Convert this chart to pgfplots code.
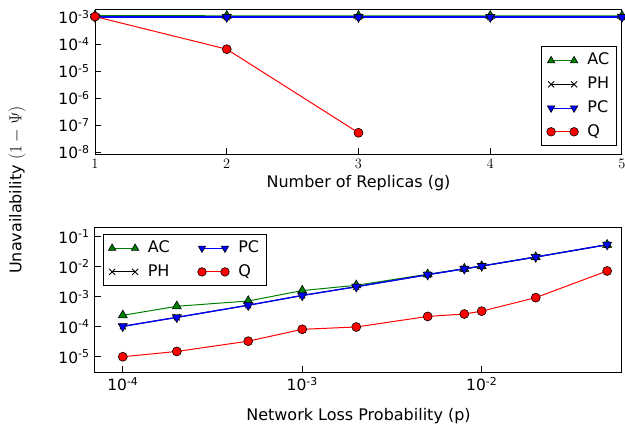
\documentclass[border=0pt]{standalone}
\usepackage{fontspec}
\setmainfont{DejaVu Sans}
\usepackage{pgfplots}
\pgfplotsset{compat=1.18}

\definecolor{mplgreen}{rgb}{0,0.5,0}

\pgfplotsset{
  panel/.style={
    scale only axis,
    width=527pt, height=145pt,
    anchor=south west,
    axis line style={line width=1pt},
    tick align=inside,
    xtick pos=left, ytick pos=left,
    major tick length=6pt,
    every tick/.style={black, line width=1pt},
    minor xtick={}, minor ytick={},
    tick label style={font=\fontsize{15.5}{18}\selectfont},
    label style={font=\fontsize{16}{19}\selectfont},
    legend cell align=left,
    legend style={draw=black, line width=1pt, fill=white,
      font=\fontsize{16}{19}\selectfont,
      inner xsep=5pt, inner ysep=4pt, row sep=4.2pt,
      nodes={inner sep=2pt, text height=12pt, text depth=3.5pt},
      /tikz/every odd column/.append style={column sep=7pt}},
    legend image code/.code={\draw[#1, line width=1pt, mark size=4.3pt] plot coordinates {(0pt,0pt) (23pt,0pt)};},
  },
  ac/.style={mplgreen, line width=1pt, mark=triangle*, mark size=5.2pt,
    mark options={fill=mplgreen, draw=black, line width=0.6pt}},
  ph/.style={black, line width=1pt, mark=x, mark size=4.2pt,
    mark options={line width=0.8pt}},
  pc/.style={blue, line width=1.3pt, mark=triangle*, mark size=5.2pt,
    mark options={rotate=180, fill=blue, draw=black, line width=0.6pt}},
  q/.style={red, line width=1pt, mark=*, mark size=4.5pt,
    mark options={fill=red, draw=black, line width=0.6pt}},
}

\begin{document}
\fontsize{16}{19}\selectfont
\begin{tikzpicture}
\useasboundingbox (0pt,0pt) rectangle (625pt,-426pt);

% top: number of replicas
\begin{axis}[panel,
  at={(95pt,-154pt)},
  ymode=log, log basis y=10,
  xmin=1, xmax=5, ymin=8.5e-9, ymax=2e-3,
  xtick={1,2,3,4,5},
  ytick={1e-8,1e-7,1e-6,1e-5,1e-4,1e-3},
  yticklabels={10\textsuperscript{-8},10\textsuperscript{-7},10\textsuperscript{-6},10\textsuperscript{-5},10\textsuperscript{-4},10\textsuperscript{-3}},
  xlabel={Number of Replicas (g)},
  xlabel style={yshift=4pt},
  clip=false,
  legend style={at={(0.990,0.055)}, anchor=south east},
]
\addplot[ac] coordinates {(1,1.15e-3) (2,1.12e-3) (3,1.12e-3) (4,1.12e-3) (5,1.12e-3)};
\addlegendentry{AC}
\addplot[ph] coordinates {(1,1.0e-3) (2,1.0e-3) (3,1.0e-3) (4,1.0e-3) (5,1.0e-3)};
\addlegendentry{PH}
\addplot[pc] coordinates {(1,1.0e-3) (2,1.0e-3) (3,1.0e-3) (4,1.0e-3) (5,1.0e-3)};
\addlegendentry{PC}
\addplot[q] coordinates {(1,1.05e-3) (2,6.5e-5) (3,5.2e-8)};
\addlegendentry{Q}
\end{axis}

% bottom: network loss probability
\begin{axis}[panel,
  at={(95pt,-372pt)},
  xmode=log, ymode=log, log basis x=10, log basis y=10,
  xmin=7e-5, xmax=0.0605, ymin=3.1e-6, ymax=0.21,
  xtick={1e-4,1e-3,1e-2},
  xticklabels={10\textsuperscript{-4},10\textsuperscript{-3},10\textsuperscript{-2}},
  ytick={1e-5,1e-4,1e-3,1e-2,1e-1},
  yticklabels={10\textsuperscript{-5},10\textsuperscript{-4},10\textsuperscript{-3},10\textsuperscript{-2},10\textsuperscript{-1}},
  xlabel={Network Loss Probability (p)},
  xlabel style={yshift=-6pt},
  legend columns=2,
  legend style={at={(0.015,0.952)}, anchor=north west,
    /tikz/every even column/.append style={column sep=26pt}},
]
\addplot[ac, forget plot] coordinates {(1e-4,2.4e-4) (2e-4,4.8e-4) (5e-4,7.2e-4) (1e-3,1.6e-3) (2e-3,2.4e-3) (5e-3,5.6e-3) (8e-3,8.6e-3) (1e-2,1.05e-2) (2e-2,2.1e-2) (5e-2,5.4e-2)};
\addplot[ph, forget plot] coordinates {(1e-4,1.03e-4) (2e-4,2.05e-4) (5e-4,5.2e-4) (1e-3,1.1e-3) (2e-3,2.15e-3) (5e-3,5.4e-3) (8e-3,8.5e-3) (1e-2,1.05e-2) (2e-2,2.1e-2) (5e-2,5.4e-2)};
\addplot[pc, forget plot] coordinates {(1e-4,1.03e-4) (2e-4,2.05e-4) (5e-4,5.2e-4) (1e-3,1.1e-3) (2e-3,2.15e-3) (5e-3,5.4e-3) (8e-3,8.5e-3) (1e-2,1.05e-2) (2e-2,2.1e-2) (5e-2,5.4e-2)};
\addplot[q, forget plot] coordinates {(1e-4,1.0e-5) (2e-4,1.5e-5) (5e-4,3.3e-5) (1e-3,8.2e-5) (2e-3,9.8e-5) (5e-3,2.2e-4) (8e-3,2.65e-4) (1e-2,3.3e-4) (2e-2,9.3e-4) (5e-2,7.2e-3)};
\addlegendimage{ac}\addlegendentry{AC}
\addlegendimage{pc}\addlegendentry{PC}
\addlegendimage{ph}\addlegendentry{PH}
\addlegendimage{q}\addlegendentry{Q}
\end{axis}

\node[rotate=90, font=\fontsize{16}{19}\selectfont] at (17pt,-190pt) {Unavailability $(1-\Psi)$};
\end{tikzpicture}
\end{document}
